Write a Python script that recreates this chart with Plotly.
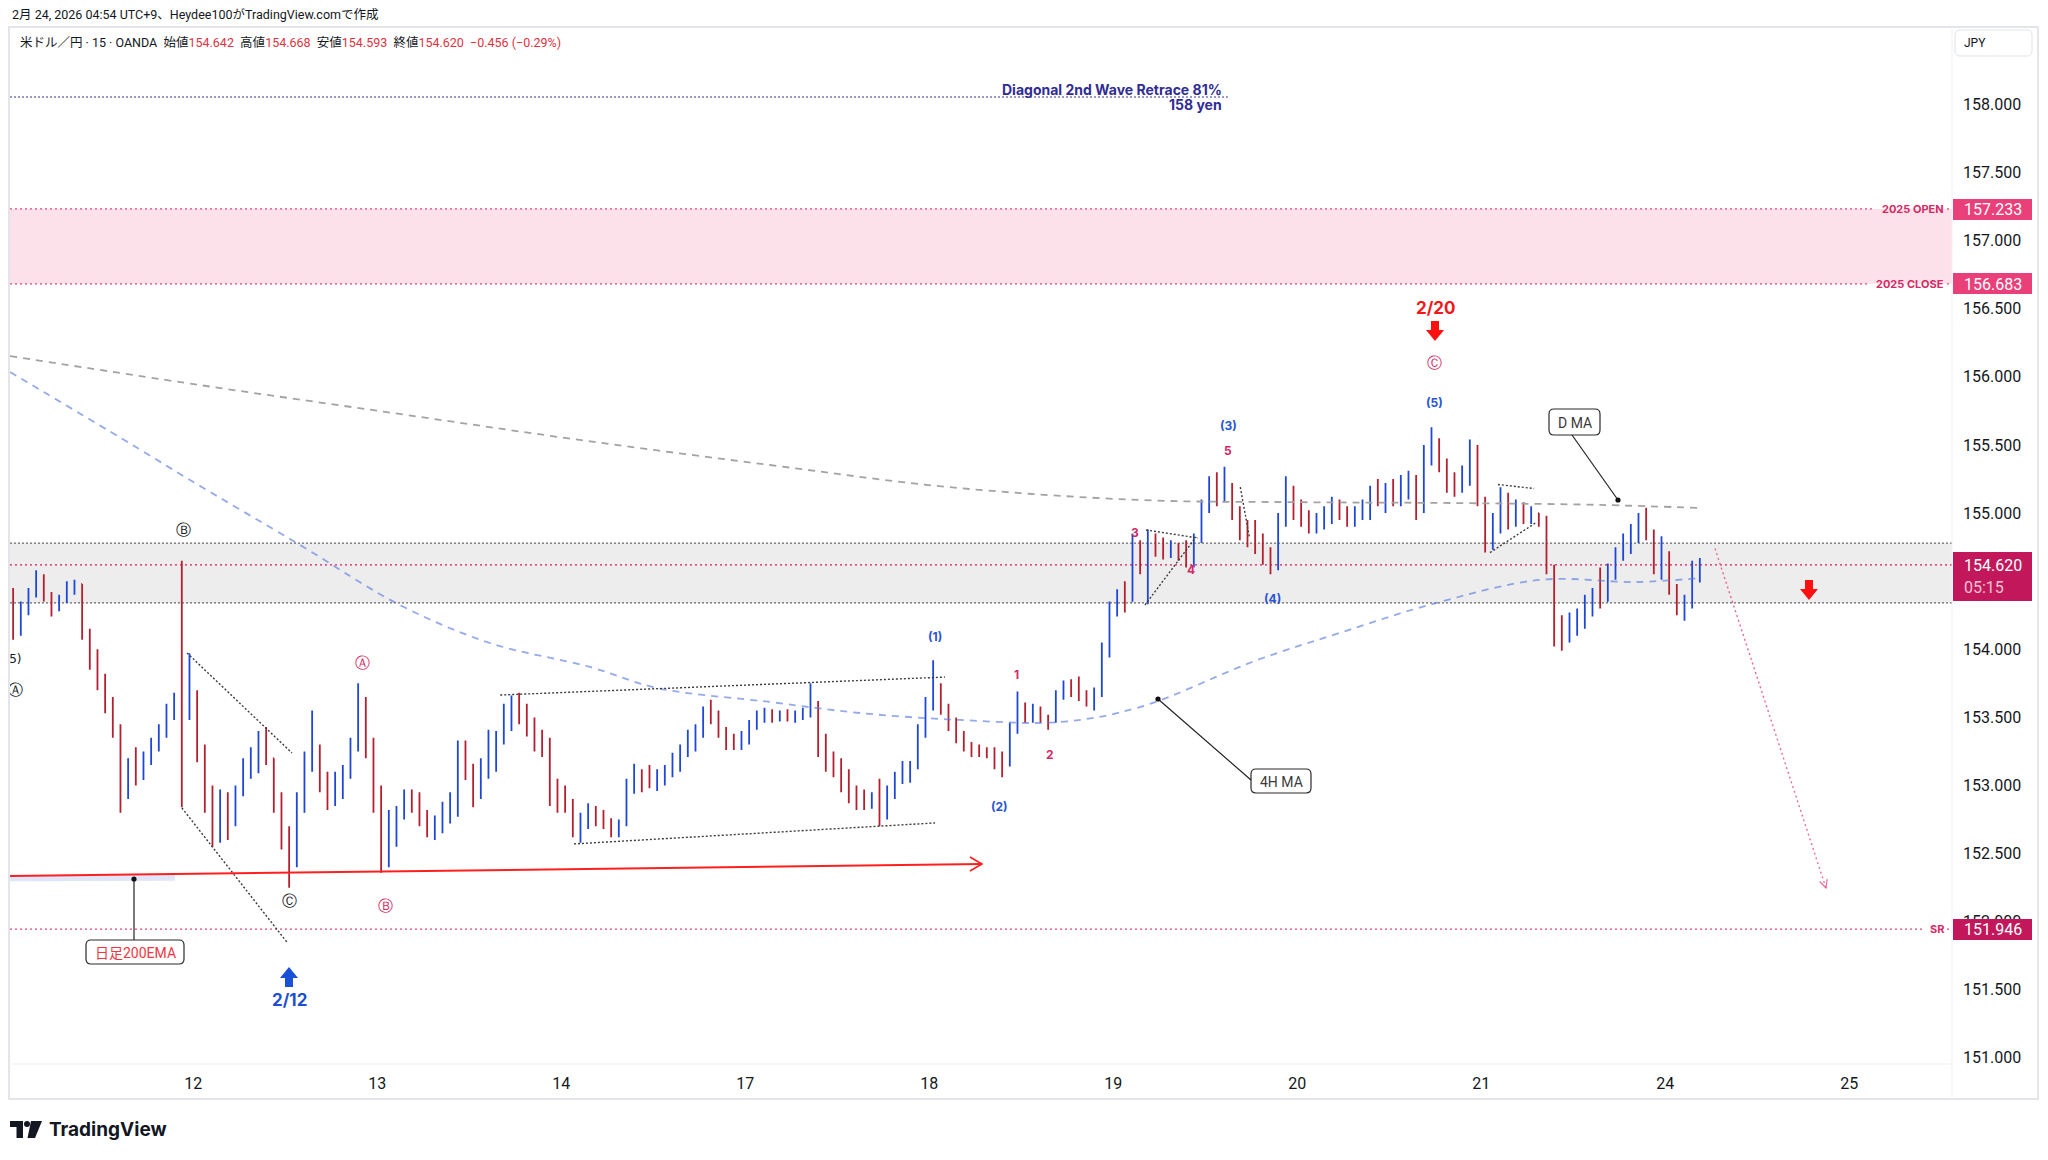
import math
import plotly.graph_objects as go

# ---------------- data ----------------
day_tick_pos = [1, 2, 3, 4, 5, 6, 7, 8, 9, 10]
day_tick_text = ["12", "13", "14", "17", "18", "19", "20", "21", "24", "25"]
# 154.500 is hidden behind the last-price label in the reference
price_tick_vals = [151.0, 151.5, 152.0, 152.5, 153.0, 153.5, 154.0,
                   155.0, 155.5, 156.0, 156.5, 157.0, 157.5, 158.0]

bars_per_day = 24
first_open = 154.25
bar_high = [
    154.45, 154.35, 154.45, 154.58, 154.55, 154.42, 154.40, 154.50, 154.51, 154.48, 154.15, 154.00, 153.82, 153.65, 153.45, 153.20, 153.28, 153.25, 153.35, 153.45, 153.60, 153.68, 154.65, 153.97,
    153.70, 153.30, 153.00, 152.97, 152.95, 153.00, 153.20, 153.28, 153.40, 153.43, 153.17, 152.95, 152.70, 152.95, 153.25, 153.55, 153.30, 153.10, 153.10, 153.15, 153.35, 153.75, 153.65, 153.35,
    153.00, 152.82, 152.85, 152.97, 152.97, 152.95, 152.82, 152.78, 152.88, 152.95, 153.33, 153.33, 153.16, 153.20, 153.41, 153.40, 153.60, 153.66, 153.68, 153.60, 153.50, 153.41, 153.35, 153.05,
    153.00, 152.90, 152.80, 152.87, 152.85, 152.82, 152.76, 152.75, 153.05, 153.16, 153.12, 153.15, 153.12, 153.15, 153.24, 153.30, 153.41, 153.45, 153.58, 153.63, 153.55, 153.43, 153.38, 153.40,
    153.48, 153.55, 153.57, 153.56, 153.55, 153.56, 153.55, 153.57, 153.75, 153.62, 153.38, 153.25, 153.20, 153.12, 153.00, 152.97, 152.95, 153.05, 153.00, 153.10, 153.18, 153.18, 153.45, 153.65,
    153.92, 153.75, 153.60, 153.50, 153.40, 153.32, 153.30, 153.28, 153.28, 153.25, 153.46, 153.69, 153.61, 153.60, 153.58, 153.52, 153.70, 153.77, 153.78, 153.80, 153.70, 153.72, 154.05, 154.35,
    154.44, 154.50, 154.85, 154.80, 154.88, 154.85, 154.82, 154.80, 154.78, 154.80, 154.85, 155.10, 155.27, 155.30, 155.34, 155.22, 155.05, 154.95, 154.95, 154.85, 154.75, 155.00, 155.27, 155.20,
    155.10, 155.02, 155.00, 155.05, 155.12, 155.10, 155.05, 155.05, 155.10, 155.20, 155.25, 155.22, 155.25, 155.28, 155.31, 155.28, 155.50, 155.63, 155.55, 155.40, 155.30, 155.35, 155.54, 155.50,
    155.12, 155.00, 155.19, 155.15, 155.10, 155.08, 155.05, 155.00, 154.98, 154.62, 154.25, 154.27, 154.30, 154.40, 154.45, 154.60, 154.63, 154.75, 154.85, 154.92, 155.00, 155.04, 154.88, 154.83,
    154.72, 154.48, 154.40, 154.65, 154.67,
]
bar_low = [
    154.07, 154.10, 154.25, 154.38, 154.35, 154.24, 154.28, 154.34, 154.40, 154.07, 153.85, 153.70, 153.53, 153.35, 152.80, 152.90, 153.00, 153.04, 153.15, 153.25, 153.35, 153.48, 152.84, 153.48,
    153.17, 152.80, 152.55, 152.58, 152.60, 152.70, 152.92, 153.05, 153.09, 153.15, 152.80, 152.53, 152.25, 152.40, 152.80, 153.10, 152.95, 152.82, 152.85, 152.90, 153.05, 153.25, 153.20, 152.80,
    152.36, 152.40, 152.55, 152.75, 152.80, 152.70, 152.62, 152.60, 152.65, 152.72, 152.77, 153.04, 152.84, 152.90, 153.05, 153.10, 153.30, 153.40, 153.45, 153.36, 153.25, 153.21, 152.85, 152.80,
    152.80, 152.62, 152.58, 152.68, 152.70, 152.68, 152.62, 152.62, 152.70, 152.94, 152.95, 152.98, 152.96, 153.00, 153.06, 153.10, 153.21, 153.25, 153.35, 153.45, 153.35, 153.26, 153.26, 153.26,
    153.30, 153.41, 153.46, 153.46, 153.47, 153.47, 153.46, 153.48, 153.50, 153.21, 153.10, 153.06, 152.95, 152.87, 152.82, 152.82, 152.83, 152.70, 152.75, 152.90, 153.01, 153.02, 153.12, 153.35,
    153.55, 153.52, 153.40, 153.31, 153.25, 153.21, 153.21, 153.20, 153.12, 153.06, 153.14, 153.38, 153.46, 153.46, 153.46, 153.41, 153.46, 153.63, 153.65, 153.62, 153.58, 153.55, 153.65, 153.94,
    154.24, 154.27, 154.35, 154.55, 154.33, 154.68, 154.66, 154.67, 154.65, 154.60, 154.60, 154.78, 155.00, 155.05, 155.08, 154.95, 154.80, 154.75, 154.70, 154.62, 154.55, 154.58, 154.90, 154.95,
    154.90, 154.85, 154.85, 154.88, 154.92, 154.95, 154.90, 154.90, 154.95, 154.95, 155.05, 155.00, 155.05, 155.05, 155.10, 154.95, 155.00, 155.35, 155.30, 155.15, 155.12, 155.15, 155.20, 155.05,
    154.71, 154.73, 154.85, 154.88, 154.90, 154.92, 154.92, 154.90, 154.55, 154.02, 153.99, 154.05, 154.10, 154.15, 154.24, 154.30, 154.35, 154.51, 154.65, 154.70, 154.78, 154.80, 154.55, 154.51,
    154.40, 154.25, 154.21, 154.30, 154.49,
]
bar_close = [
    154.15, 154.30, 154.40, 154.52, 154.38, 154.30, 154.36, 154.46, 154.48, 154.12, 153.95, 153.78, 153.60, 153.42, 153.00, 153.15, 153.10, 153.20, 153.30, 153.40, 153.55, 153.62, 153.55, 153.60,
    153.25, 152.90, 152.70, 152.85, 152.75, 152.95, 153.15, 153.22, 153.30, 153.20, 152.90, 152.65, 152.45, 152.85, 153.20, 153.25, 153.05, 152.95, 153.00, 153.10, 153.30, 153.60, 153.30, 152.95,
    152.60, 152.70, 152.80, 152.90, 152.88, 152.78, 152.70, 152.72, 152.80, 152.90, 153.25, 153.10, 152.95, 153.15, 153.30, 153.35, 153.55, 153.60, 153.50, 153.45, 153.35, 153.30, 152.95, 152.90,
    152.85, 152.70, 152.75, 152.80, 152.78, 152.72, 152.66, 152.72, 153.00, 153.10, 153.05, 153.02, 153.08, 153.10, 153.18, 153.25, 153.35, 153.40, 153.52, 153.50, 153.40, 153.32, 153.30, 153.36,
    153.45, 153.50, 153.52, 153.50, 153.52, 153.50, 153.53, 153.55, 153.60, 153.30, 153.20, 153.12, 153.05, 152.95, 152.90, 152.88, 152.92, 152.85, 152.95, 153.05, 153.10, 153.15, 153.40, 153.60,
    153.70, 153.58, 153.45, 153.36, 153.30, 153.26, 153.25, 153.24, 153.20, 153.15, 153.40, 153.55, 153.52, 153.55, 153.50, 153.48, 153.65, 153.72, 153.70, 153.68, 153.62, 153.68, 153.98, 154.30,
    154.40, 154.35, 154.75, 154.62, 154.78, 154.75, 154.72, 154.74, 154.70, 154.68, 154.80, 155.05, 155.20, 155.15, 155.20, 155.00, 154.85, 154.82, 154.78, 154.68, 154.62, 154.95, 155.15, 155.05,
    154.95, 154.92, 154.95, 154.98, 155.05, 155.00, 154.95, 155.00, 155.05, 155.15, 155.10, 155.15, 155.12, 155.20, 155.25, 155.05, 155.45, 155.50, 155.35, 155.20, 155.20, 155.30, 155.45, 155.10,
    154.80, 154.95, 155.05, 154.95, 155.02, 154.98, 155.00, 154.95, 154.60, 154.15, 154.10, 154.20, 154.25, 154.30, 154.40, 154.35, 154.58, 154.70, 154.80, 154.85, 154.90, 154.85, 154.60, 154.70,
    154.45, 154.30, 154.35, 154.55, 154.62,
]

# daily MA (grey dashed) and 4H MA (blue dashed): day position / value
dma_x = [0.004, 1.036, 2.085, 3.10, 4.134, 5.113, 6.145, 7.02, 7.83, 8.645, 9.19]
dma_y = [156.153, 155.94, 155.735, 155.537, 155.353, 155.19, 155.096, 155.08, 155.074, 155.06, 155.037]
ma4h_x = [0.004, 0.661, 0.982, 1.58, 2.123, 2.612, 3.156, 3.52, 4.134, 4.623, 5.167, 5.71, 6.145, 6.78, 7.23, 7.716, 8.32, 8.84, 9.19]
ma4h_y = [156.036, 155.507, 155.243, 154.766, 154.325, 154.046, 153.87, 153.716, 153.613, 153.532, 153.481, 153.466, 153.576, 153.92, 154.12, 154.325, 154.51, 154.494, 154.523]

# drawn trendlines (x0, y0, x1, y1)
trendlines = [
    (0.966, 153.973, 1.536, 153.239),
    (0.938, 152.835, 1.508, 151.851),
    (2.668, 153.664, 5.085, 153.796),
    (3.069, 152.571, 5.031, 152.725),
    (6.178, 154.876, 6.46, 154.817),
    (6.172, 154.325, 6.45, 154.825),
    (6.69, 155.19, 6.74, 154.82),
    (8.09, 155.21, 8.287, 155.18),
    (8.047, 154.71, 8.297, 154.93),
]
ema200_line = (0.004, 152.335, 5.286, 152.423)
projection_line = (9.27, 154.74, 9.873, 152.247)

level_2025_open = 157.233
level_2025_close = 156.683
level_sr = 151.946
band_top = 154.78
band_bottom = 154.34
last_price = 154.620
retrace_level = 158.055
retrace_end_x = 6.623

# ---------------- layout helpers ----------------
W, H = 2048, 1160
PL, PR, PT, PB = 10, 1952, 27, 1064
x_range = [0.0038, 10.558]
y_range = [150.955, 158.569]

def PX(px):
    return (px - PL) / (PR - PL)

def PY(py):
    return (PB - py) / (PB - PT)

def XD(px):
    return x_range[0] + (px - PL) / (PR - PL) * (x_range[1] - x_range[0])

def YD(py):
    return y_range[1] - (py - PT) / (PB - PT) * (y_range[1] - y_range[0])

def rrect_path(x0, y0, x1, y1, r):
    pts = [
        ("M", [(x0 + r, y0)]), ("L", [(x1 - r, y0)]), ("Q", [(x1, y0), (x1, y0 + r)]),
        ("L", [(x1, y1 - r)]), ("Q", [(x1, y1), (x1 - r, y1)]), ("L", [(x0 + r, y1)]),
        ("Q", [(x0, y1), (x0, y1 - r)]), ("L", [(x0, y0 + r)]), ("Q", [(x0, y0), (x0 + r, y0)]),
    ]
    s = ""
    for cmd, ps in pts:
        s += cmd + " " + " ".join(f"{PX(a):.6f},{PY(b):.6f}" for a, b in ps) + " "
    return s + "Z"

FONT = "Roboto, 'Noto Sans CJK JP', sans-serif"
BOLD = "Inter, Roboto, 'Noto Sans CJK JP', sans-serif"
BLUE_LBL = "#2856d4"
PINK_LBL = "#d42a65"
PINK_LINE = "#e0457b"
CRIMSON = "#c2185b"
BLACK = "#131722"

fig = go.Figure()

# bars
n = len(bar_close)
bar_x = [(i + 0.5) / bars_per_day for i in range(n)]
bar_open = [first_open] + bar_close[:-1]
hi = [max(h, o, c) for h, o, c in zip(bar_high, bar_open, bar_close)]
lo = [min(l, o, c) for l, o, c in zip(bar_low, bar_open, bar_close)]

fig.add_trace(go.Scatter(x=dma_x, y=dma_y, mode="lines", line_shape="spline",
                         line=dict(color="#a3a3a3", width=1.8, dash="7px,6px"),
                         hoverinfo="skip", showlegend=False))
fig.add_trace(go.Scatter(x=ma4h_x, y=ma4h_y, mode="lines", line_shape="spline",
                         line=dict(color="rgba(90,125,225,0.65)", width=1.8, dash="7px,6px"),
                         hoverinfo="skip", showlegend=False))

fig.add_trace(go.Ohlc(x=bar_x, open=bar_open, high=hi, low=lo, close=bar_close,
                      increasing=dict(line=dict(color="#1f47d6", width=1.8)),
                      decreasing=dict(line=dict(color="#b3202f", width=1.8)),
                      tickwidth=0.12, hoverinfo="skip", showlegend=False))

# clipped left-edge labels
fig.add_trace(go.Scatter(x=[XD(13), XD(15.5)], y=[YD(660), YD(691)], mode="text",
                         text=["(5)", "Ⓐ"], cliponaxis=True,
                         textfont=dict(family="'DejaVu Sans', sans-serif", size=[12, 15], color=BLACK),
                         hoverinfo="skip", showlegend=False))

shapes = []
# pink zone
shapes.append(dict(type="rect", xref="x", yref="y", x0=x_range[0], x1=x_range[1],
                   y0=level_2025_close, y1=level_2025_open, fillcolor="#fde1ea",
                   line=dict(width=0), layer="below"))
# grey band
shapes.append(dict(type="rect", xref="x", yref="y", x0=x_range[0], x1=x_range[1],
                   y0=band_bottom, y1=band_top, fillcolor="#ededed",
                   line=dict(width=0), layer="below"))
for lv in (band_top, band_bottom):
    shapes.append(dict(type="line", xref="x", yref="y", x0=x_range[0], x1=x_range[1],
                       y0=lv, y1=lv, line=dict(color="#6a6a6a", width=1.3, dash="2px,2px"),
                       layer="below"))
shapes.append(dict(type="line", xref="x", yref="y", x0=x_range[0], x1=x_range[1],
                   y0=last_price, y1=last_price,
                   line=dict(color="#d81b60", width=1.3, dash="2px,3px"), layer="below"))
# pink dotted levels broken by labels
for lv, gap_px in ((level_2025_open, 1873), (level_2025_close, 1868), (level_sr, 1924)):
    shapes.append(dict(type="line", xref="x", yref="y", x0=x_range[0], x1=XD(gap_px),
                       y0=lv, y1=lv, line=dict(color=PINK_LINE, width=1.3, dash="2px,3px"),
                       layer="below"))
    shapes.append(dict(type="line", xref="x", yref="y", x0=XD(1947), x1=x_range[1],
                       y0=lv, y1=lv, line=dict(color=PINK_LINE, width=1.3, dash="2px,3px"),
                       layer="below"))
# retrace line
shapes.append(dict(type="line", xref="x", yref="y", x0=x_range[0], x1=retrace_end_x,
                   y0=retrace_level, y1=retrace_level,
                   line=dict(color="#3a3596", width=1.2, dash="2px,2px")))
# trendlines
for (a, b, c, d) in trendlines:
    shapes.append(dict(type="line", xref="x", yref="y", x0=a, y0=b, x1=c, y1=d,
                       line=dict(color="#3c3c3c", width=1.4, dash="2px,2px")))
# ema200 faint + red line with arrow
shapes.append(dict(type="line", xref="x", yref="y", x0=0.004, x1=0.9, y0=152.318, y1=152.322,
                   line=dict(color="rgba(170,180,240,0.35)", width=6), layer="below"))
ex0, ey0, ex1, ey1 = ema200_line
shapes.append(dict(type="line", xref="x", yref="y", x0=ex0, y0=ey0, x1=ex1, y1=ey1,
                   line=dict(color="#ff1f1f", width=2)))
shapes.append(dict(type="path", xref="x", yref="y", xsizemode="pixel", ysizemode="pixel",
                   xanchor=ex1, yanchor=ey1, path="M -12 7 L 0 0 L -12 -7",
                   line=dict(color="#ff1f1f", width=1.6)))
# projection line
px0, py0, px1, py1 = projection_line
shapes.append(dict(type="line", xref="x", yref="y", x0=px0, y0=py0, x1=px1, y1=py1,
                   line=dict(color="rgba(233,80,130,0.85)", width=1.4, dash="2px,3px")))
ang = math.atan2(-339.5, 111.0)
hp = []
for da in (0.45, -0.45):
    a2 = ang + math.pi + da
    hp.append((9 * math.cos(a2), 9 * math.sin(a2)))
shapes.append(dict(type="path", xref="x", yref="y", xsizemode="pixel", ysizemode="pixel",
                   xanchor=px1, yanchor=py1,
                   path=f"M {hp[0][0]:.2f} {hp[0][1]:.2f} L 0 0 L {hp[1][0]:.2f} {hp[1][1]:.2f}",
                   line=dict(color="rgba(233,80,130,0.85)", width=1.2)))

# block arrows (pixel paths)
down_arrow = "M -4 10 L 4 10 L 4 1 L 9 1 L 0 -10 L -9 1 L -4 1 Z"
up_arrow = "M -4 -10 L 4 -10 L 4 -1 L 9 -1 L 0 10 L -9 -1 L -4 -1 Z"
for path, cx, cy, col in ((down_arrow, 1435, 331, "#ff1010"), (down_arrow, 1809, 590, "#ff1010"),
                          (up_arrow, 289, 977, "#1a4fd8")):
    shapes.append(dict(type="path", xref="paper", yref="paper", xsizemode="pixel",
                       ysizemode="pixel", xanchor=PX(cx), yanchor=PY(cy), path=path,
                       fillcolor=col, line=dict(width=0)))

# callout boxes
for (x0, y0, x1, y1) in ((1549, 409, 1600, 435), (1251, 769, 1311, 793), (86, 940, 184, 964)):
    shapes.append(dict(type="path", xref="paper", yref="paper", path=rrect_path(x0, y0, x1, y1, 5),
                       fillcolor="white", line=dict(color="#2a2a2a", width=1.2)))
for (a, b, c, d) in ((1572, 435, 1618, 500), (1251, 780, 1158, 699), (134, 940, 134, 879)):
    shapes.append(dict(type="line", xref="paper", yref="paper", x0=PX(a), y0=PY(b), x1=PX(c), y1=PY(d),
                       line=dict(color="#222", width=1.2)))
for (cx, cy) in ((1618, 500), (1158, 699), (134, 879)):
    shapes.append(dict(type="circle", xref="paper", yref="paper", x0=PX(cx - 2.6), x1=PX(cx + 2.6),
                       y0=PY(cy + 2.6), y1=PY(cy - 2.6), fillcolor="#111", line=dict(width=0)))

# frame
shapes.append(dict(type="rect", xref="paper", yref="paper", x0=PX(9), x1=PX(2038), y0=PY(1099), y1=PY(27),
                   line=dict(color="#e3e5ea", width=2)))
shapes.append(dict(type="line", xref="paper", yref="paper", x0=PX(1952), x1=PX(1952), y0=PY(1099), y1=PY(27),
                   line=dict(color="#f0f1f4", width=1)))
shapes.append(dict(type="line", xref="paper", yref="paper", x0=PX(9), x1=PX(1952), y0=PY(1064), y1=PY(1064),
                   line=dict(color="#f0f1f4", width=1)))
# JPY box
shapes.append(dict(type="path", xref="paper", yref="paper", path=rrect_path(1955, 30, 2032, 56, 5),
                   fillcolor="white", line=dict(color="#e0e3eb", width=1)))
# price label boxes
for (y0, y1, col) in ((199, 220, "#ea4079"), (273, 294, "#ea4079"), (552, 601, CRIMSON), (919, 940, CRIMSON)):
    shapes.append(dict(type="rect", xref="paper", yref="paper", x0=PX(1953), x1=PX(2032),
                       y0=PY(y1), y1=PY(y0), fillcolor=col, line=dict(width=0)))
# TradingView logo
shapes.append(dict(type="rect", xref="paper", yref="paper", x0=PX(10), x1=PX(23), y0=PY(1127), y1=PY(1121),
                   fillcolor=BLACK, line=dict(width=0)))
shapes.append(dict(type="rect", xref="paper", yref="paper", x0=PX(16.5), x1=PX(23), y0=PY(1138), y1=PY(1121),
                   fillcolor=BLACK, line=dict(width=0)))
shapes.append(dict(type="circle", xref="paper", yref="paper", x0=PX(24), x1=PX(30), y0=PY(1127), y1=PY(1121),
                   fillcolor=BLACK, line=dict(width=0)))
shapes.append(dict(type="path", xref="paper", yref="paper",
                   path=f"M {PX(31)},{PY(1121)} L {PX(42)},{PY(1121)} L {PX(35)},{PY(1138)} L {PX(27.5)},{PY(1138)} Z",
                   fillcolor=BLACK, line=dict(width=0)))

ann = []

def T(text, px, py, size=13, color=BLACK, family=FONT, xanchor="center", yanchor="middle", bold=False):
    if bold:
        text = f"<b>{text}</b>"
    ann.append(dict(text=text, x=PX(px), y=PY(py), xref="paper", yref="paper", showarrow=False,
                    xanchor=xanchor, yanchor=yanchor, font=dict(size=size, color=color, family=family)))

red = "#e0323f"
T("2月 24, 2026 04:54 UTC+9、Heydee100がTradingView.comで作成", 10, 15, 12.5, BLACK, xanchor="left")
T(f"米ドル／円 · 15 · OANDA  始値<span style='color:{red}'>154.642</span>  高値<span style='color:{red}'>154.668</span>"
  f"  安値<span style='color:{red}'>154.593</span>  終値<span style='color:{red}'>154.620</span>"
  f"  <span style='color:{red}'>−0.456 (−0.29%)</span>", 18, 42, 12.5, BLACK, xanchor="left")

T("Diagonal 2nd Wave Retrace 81%", 1224, 90, 14, "#302c94", BOLD, xanchor="right", bold=True)
T("158 yen", 1224, 104.5, 14, "#302c94", BOLD, xanchor="right", bold=True)

T("2025 OPEN", 1946, 209, 11, "#d42a65", BOLD, xanchor="right", bold=True)
T("2025 CLOSE", 1946, 284, 11, "#d42a65", BOLD, xanchor="right", bold=True)
T("SR", 1946, 929, 11, "#d42a65", BOLD, xanchor="right", bold=True)

T("JPY", 1962, 43, 12, BLACK, xanchor="left")
T("157.233", 1962, 209.5, 16, "white", xanchor="left")
T("156.683", 1962, 284, 16, "white", xanchor="left")
T("154.620", 1962, 565, 16, "white", xanchor="left")
T("05:15", 1962, 587, 16, "#f6c3d6", xanchor="left")
T("151.946", 1962, 929.5, 16, "white", xanchor="left")

circ = "'DejaVu Sans', sans-serif"
T("Ⓑ", 183, 530, 15, BLACK, circ)
T("Ⓒ", 289, 901, 15, BLACK, circ)
T("Ⓐ", 362, 663, 15, PINK_LBL, circ)
T("Ⓑ", 385, 906, 15, PINK_LBL, circ)
T("Ⓒ", 1434, 363, 15, PINK_LBL, circ)
for txt, px, py in (("(1)", 935, 636), ("(2)", 999, 806), ("(3)", 1228, 426), ("(4)", 1272, 598), ("(5)", 1434, 402)):
    T(txt, px, py, 12, BLUE_LBL, BOLD, bold=True)
for txt, px, py in (("1", 1016, 674), ("2", 1050, 754), ("3", 1135, 532), ("4", 1191, 569), ("5", 1228, 451)):
    T(txt, px, py, 12, PINK_LBL, BOLD, bold=True)
T("2/20", 1435, 308, 17, "#f21818", BOLD, bold=True)
T("2/12", 289, 1000, 17, "#1d4fd0", BOLD, bold=True)

T("D MA", 1574.5, 422.5, 14, "#3a3a3a")
T("4H MA", 1281, 781.5, 14, "#3a3a3a")
T("日足200EMA", 135, 952.5, 14, "#f23645")

T("TradingView", 47, 1129, 19, BLACK, BOLD, xanchor="left", bold=True)

fig.update_layout(
    width=W, height=H,
    margin=dict(l=PL, r=W - PR, t=PT, b=H - PB, pad=0),
    paper_bgcolor="white", plot_bgcolor="white",
    showlegend=False,
    shapes=shapes, annotations=ann,
    font=dict(family=FONT, color=BLACK),
    xaxis=dict(range=x_range, tickvals=day_tick_pos, ticktext=day_tick_text,
               showgrid=False, zeroline=False, showline=False, ticks="",
               tickfont=dict(size=16, color=BLACK, family=FONT), ticklabelstandoff=8,
               rangeslider=dict(visible=False), fixedrange=True),
    yaxis=dict(range=y_range, side="right", tickvals=price_tick_vals,
               ticktext=[f"{v:.3f}" for v in price_tick_vals],
               showgrid=False, zeroline=False, showline=False, ticks="",
               tickfont=dict(size=16, color=BLACK, family=FONT), ticklabelstandoff=10,
               fixedrange=True),
)

fig.write_html("out.html")
